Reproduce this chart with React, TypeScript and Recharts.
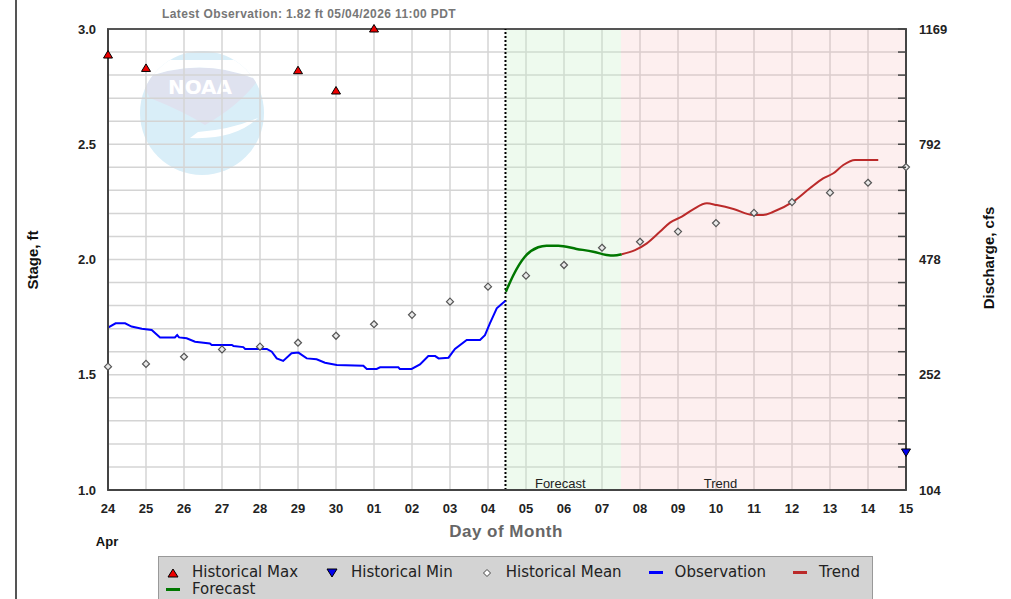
import React from 'react';
import {
  ComposedChart, Line, Scatter, XAxis, YAxis, CartesianGrid, ReferenceArea, ReferenceLine,
} from 'recharts';

// ---- tick labels ----
const dayLabels = ['24', '25', '26', '27', '28', '29', '30', '01', '02', '03', '04', '05', '06', '07', '08', '09', '10', '11', '12', '13', '14', '15'];
const dayTicks = [0, 1, 2, 3, 4, 5, 6, 7, 8, 9, 10, 11, 12, 13, 14, 15, 16, 17, 18, 19, 20, 21];
const stageTicks = [1.0, 1.1, 1.2, 1.3, 1.4, 1.5, 1.6, 1.7, 1.8, 1.9, 2.0, 2.1, 2.2, 2.3, 2.4, 2.5, 2.6, 2.7, 2.8, 2.9, 3.0];
const stageMajor = [1.0, 1.5, 2.0, 2.5, 3.0];
const dischargeLabels = ['104', '252', '478', '792', '1169'];

// ---- observation (days since Apr 24 00:00, stage ft) ----
const obsDay = [0.0, 0.2, 0.45, 0.62, 0.89, 1.15, 1.37, 1.76, 1.82, 1.87, 2.07, 2.29, 2.68, 2.73, 3.26, 3.30, 3.56, 3.61, 4.18, 4.31, 4.44, 4.61, 4.83, 5.01, 5.23, 5.49, 5.71, 6.02, 6.72, 6.81, 7.07, 7.16, 7.64, 7.68, 7.99, 8.21, 8.43, 8.61, 8.70, 8.96, 9.13, 9.44, 9.79, 9.92, 10.05, 10.23, 10.36, 10.46];
const obsStage = [1.704, 1.723, 1.723, 1.709, 1.700, 1.694, 1.662, 1.662, 1.672, 1.662, 1.658, 1.643, 1.636, 1.629, 1.629, 1.625, 1.620, 1.612, 1.612, 1.600, 1.571, 1.560, 1.593, 1.596, 1.571, 1.567, 1.552, 1.542, 1.539, 1.525, 1.525, 1.532, 1.532, 1.525, 1.525, 1.545, 1.581, 1.581, 1.571, 1.574, 1.612, 1.651, 1.651, 1.672, 1.723, 1.788, 1.807, 1.821];

// ---- forecast ----
const fcDay = [10.47, 10.67, 10.97, 11.32, 11.54, 11.85, 12.33, 12.77, 13.12, 13.30, 13.52];
const fcStage = [1.860, 1.933, 2.012, 2.053, 2.060, 2.060, 2.046, 2.034, 2.020, 2.017, 2.023];

// ---- trend ----
const trendDay = [13.52, 13.87, 14.18, 14.53, 14.79, 15.10, 15.40, 15.76, 16.02, 16.46, 16.98, 17.24, 17.51, 18.03, 18.47, 18.82, 19.09, 19.35, 19.66, 20.27];
const trendStage = [2.023, 2.041, 2.070, 2.121, 2.160, 2.186, 2.218, 2.244, 2.236, 2.219, 2.193, 2.193, 2.207, 2.251, 2.309, 2.352, 2.374, 2.410, 2.432, 2.432];

// ---- historical ----
const maxDay = [0, 1, 5, 6, 7];
const maxStage = [2.887, 2.829, 2.819, 2.731, 3.0];
const minDay = [21];
const minStage = [1.165];
const meanDay = [0, 1, 2, 3, 4, 5, 6, 7, 8, 9, 10, 11, 12, 13, 14, 15, 16, 17, 18, 19, 20, 21];
const meanStage = [1.535, 1.547, 1.578, 1.610, 1.622, 1.639, 1.669, 1.719, 1.760, 1.817, 1.882, 1.930, 1.976, 2.051, 2.077, 2.121, 2.158, 2.202, 2.249, 2.290, 2.333, 2.401];

const obsEnd = 10.46;
const forecastEnd = 13.5;

const zip = (xs: number[], ys: number[]) => xs.map((x, i) => ({ x, y: ys[i] }));
const obsData = zip(obsDay, obsStage);
const fcData = zip(fcDay, fcStage);
const trendData = zip(trendDay, trendStage);
const maxData = zip(maxDay, maxStage);
const minData = zip(minDay, minStage);
const meanData = zip(meanDay, meanStage);

const isMajor = (v: number) => stageMajor.some((m) => Math.abs(m - v) < 1e-6);

const TriUp = (p: any) => {
  const { cx, cy } = p;
  if (cx == null || cy == null) return null;
  return <path d={`M${cx},${cy - 4.5} L${cx + 4.5},${cy + 3} L${cx - 4.5},${cy + 3} Z`} fill="#ee0000" stroke="#000" strokeWidth={1} />;
};
const TriDown = (p: any) => {
  const { cx, cy } = p;
  if (cx == null || cy == null) return null;
  return <path d={`M${cx - 4.5},${cy - 3} L${cx + 4.5},${cy - 3} L${cx},${cy + 4.5} Z`} fill="#0000ee" stroke="#000" strokeWidth={1} />;
};
const Diamond = (p: any) => {
  const { cx, cy } = p;
  if (cx == null || cy == null) return null;
  return <path d={`M${cx},${cy - 3.5} L${cx + 3.5},${cy} L${cx},${cy + 3.5} L${cx - 3.5},${cy} Z`} fill="#e8e8e8" stroke="#555" strokeWidth={1.2} />;
};

const labelFont = '"Liberation Sans", Arial, sans-serif';

const AreaLabel = (text: string, dx: number) => (props: any) => {
  const vb = props.viewBox || {};
  const x = vb.x + vb.width / 2 + dx;
  const y = vb.y + vb.height - 2;
  return (
    <text x={x} y={y} textAnchor="middle" fontFamily={labelFont} fontSize={13} fill="#222">{text}</text>
  );
};

const RightTick = (props: any) => {
  const { y, payload } = props;
  const v = payload?.value as number;
  const i = stageMajor.findIndex((m) => Math.abs(m - v) < 1e-6);
  return (
    <g>
      <line x1={906} x2={898} y1={y} y2={y} stroke="#444" strokeWidth={1.5} />
      {i >= 0 ? (
        <text x={919} y={y} dy="0.35em" textAnchor="start" fontFamily={labelFont} fontSize={13} fontWeight="bold" fill="#222">
          {dischargeLabels[i]}
        </text>
      ) : null}
    </g>
  );
};

const NoaaLogo = () => (
  <svg width={1011} height={599} style={{ position: 'absolute', left: 0, top: 0 }}>
    <defs>
      <clipPath id="noaaclip"><circle cx={202} cy={113} r={62} /></clipPath>
    </defs>
    <circle cx={202} cy={113} r={62} fill="#d9eef8" />
    <g clipPath="url(#noaaclip)">
      <path d="M140,80 Q200,55 258,80 Q240,105 205,125 Q185,112 150,98 Z" fill="#dfe2ef" />
      <path d="M140,60 L264,60 L258,80 Q200,55 140,80 Z" fill="#ffffff" />
      <path d="M198,132 Q230,130 258,118 Q235,140 190,138 Z" fill="#ffffff" />
    </g>
    <text x={200} y={94} textAnchor="middle" fontFamily="'DejaVu Sans', sans-serif" fontWeight="bold" fontSize={20} fill="#ffffff">NOAA</text>
  </svg>
);

const legendItem = (icon: React.ReactNode, text: string, mr: number) => (
  <div style={{ display: 'flex', alignItems: 'center', marginRight: mr, height: 17, flexShrink: 0 }}>
    <div style={{ width: 16, display: 'flex', justifyContent: 'center' }}>{icon}</div>
    <span style={{ marginLeft: 11, whiteSpace: 'nowrap', lineHeight: '17px' }}>{text}</span>
  </div>
);

const lineIcon = (color: string) => <div style={{ width: 14, height: 3, background: color }} />;

export default function App() {
  return (
    <div style={{ position: 'absolute', left: 0, top: 0, width: 1011, height: 599, background: '#fff', overflow: 'hidden' }}>
      <NoaaLogo />
      <div style={{ position: 'absolute', left: 15, top: 0, width: 2, height: 599, background: '#555' }} />
      <div style={{ position: 'absolute', left: 0, top: 0 }}>
        <ComposedChart width={1011} height={599} margin={{ top: 29, right: 45, bottom: 79, left: 48 }}>
          <XAxis
            dataKey="x"
            type="number"
            domain={[0, 21]}
            ticks={dayTicks}
            interval={0}
            tickFormatter={(v: number) => dayLabels[Math.round(v)]}
            tickLine={false}
            tickMargin={8}
            height={30}
            axisLine={{ stroke: '#444', strokeWidth: 2 }}
            tick={{ fontFamily: labelFont, fontSize: 13, fontWeight: 'bold', fill: '#222' }}
          />
          <YAxis
            yAxisId="left"
            dataKey="y"
            type="number"
            domain={[1, 3]}
            ticks={stageTicks}
            interval={0}
            width={60}
            tickLine={false}
            tickSize={0}
            tickMargin={12}
            tickFormatter={(v: number) => (isMajor(v) ? v.toFixed(1) : '')}
            axisLine={{ stroke: '#444', strokeWidth: 2 }}
            tick={{ fontFamily: labelFont, fontSize: 13, fontWeight: 'bold', fill: '#222' }}
          />
          <YAxis
            yAxisId="right"
            orientation="right"
            dataKey="y"
            type="number"
            domain={[1, 3]}
            ticks={stageTicks}
            interval={0}
            width={60}
            tickLine={false}
            axisLine={{ stroke: '#444', strokeWidth: 2 }}
            tick={<RightTick />}
          />
          <CartesianGrid yAxisId="left" stroke="#d4d4d4" strokeWidth={1.5} />
          <ReferenceArea yAxisId="left" x1={obsEnd} x2={forecastEnd} y1={1} y2={3} fill="#c8f0c8" fillOpacity={0.3} stroke="none" label={AreaLabel('Forecast', -3)} />
          <ReferenceArea yAxisId="left" x1={forecastEnd} x2={21} y1={1} y2={3} fill="#f5b0b0" fillOpacity={0.2} stroke="none" label={AreaLabel('Trend', -43)} />
          <ReferenceArea yAxisId="left" x1={0} x2={21} y1={1} y2={3} fill="none" stroke="#555" strokeWidth={2} />
          <ReferenceLine yAxisId="left" x={obsEnd} stroke="#000" strokeWidth={2} strokeDasharray="2 2" />
          <Line yAxisId="left" data={obsData} dataKey="y" type="linear" stroke="#0000ff" strokeWidth={2} dot={false} isAnimationActive={false} />
          <Line yAxisId="left" data={fcData} dataKey="y" type="monotone" stroke="#007700" strokeWidth={2.5} dot={false} isAnimationActive={false} />
          <Line yAxisId="left" data={trendData} dataKey="y" type="monotone" stroke="#bb2a2a" strokeWidth={2} dot={false} isAnimationActive={false} />
          <Scatter yAxisId="left" data={meanData} dataKey="y" shape={Diamond} isAnimationActive={false} />
          <Scatter yAxisId="left" data={maxData} dataKey="y" shape={TriUp} isAnimationActive={false} />
          <Scatter yAxisId="right" data={minData} dataKey="y" shape={TriDown} isAnimationActive={false} />
        </ComposedChart>
      </div>
      {/* title & axis labels */}
      <div style={{ position: 'absolute', left: 109, width: 400, top: 7, textAlign: 'center', fontFamily: labelFont, fontSize: 12, fontWeight: 'bold', color: '#777', letterSpacing: 0.4 }}>
        Latest Observation: 1.82 ft 05/04/2026 11:00 PDT
      </div>
      <div style={{ position: 'absolute', left: 32, top: 260, transform: 'translate(-50%, -50%) rotate(-90deg)', whiteSpace: 'nowrap', fontFamily: labelFont, fontSize: 15, fontWeight: 'bold', color: '#111' }}>
        Stage, ft
      </div>
      <div style={{ position: 'absolute', left: 988, top: 258, transform: 'translate(-50%, -50%) rotate(-90deg)', whiteSpace: 'nowrap', fontFamily: labelFont, fontSize: 15, fontWeight: 'bold', color: '#111' }}>
        Discharge, cfs
      </div>
      <div style={{ position: 'absolute', left: 506, top: 532, transform: 'translate(-50%, -50%)', whiteSpace: 'nowrap', fontFamily: labelFont, fontSize: 17, fontWeight: 'bold', color: '#666', letterSpacing: 0.5 }}>
        Day of Month
      </div>
      <div style={{ position: 'absolute', left: 107, top: 541, transform: 'translate(-50%, -50%)', whiteSpace: 'nowrap', fontFamily: labelFont, fontSize: 13, fontWeight: 'bold', color: '#111' }}>
        Apr
      </div>
      {/* legend */}
      <div style={{ position: 'absolute', left: 158, top: 556, width: 713, height: 60, background: '#d3d3d3', border: '1px solid #999', fontFamily: '"DejaVu Sans", sans-serif', fontSize: 15, color: '#222' }}>
        <div style={{ display: 'flex', flexWrap: 'wrap', paddingLeft: 6, paddingTop: 7, rowGap: 0 }}>
          {legendItem(<svg width={12} height={10}><path d="M6,1 L11,9 L1,9 Z" fill="#ee0000" stroke="#000" strokeWidth={1} /></svg>, 'Historical Max', 26)}
          {legendItem(<svg width={12} height={10}><path d="M1,1 L11,1 L6,9 Z" fill="#0000ee" stroke="#000" strokeWidth={1} /></svg>, 'Historical Min', 26)}
          {legendItem(<svg width={10} height={10}><path d="M5,1.5 L8.5,5 L5,8.5 L1.5,5 Z" fill="#fff" stroke="#444" strokeWidth={1} /></svg>, 'Historical Mean', 26)}
          {legendItem(lineIcon('#0000ff'), 'Observation', 26)}
          {legendItem(lineIcon('#bb2a2a'), 'Trend', 0)}
          <div style={{ flexBasis: '100%', height: 0 }} />
          {legendItem(lineIcon('#007700'), 'Forecast', 0)}
        </div>
      </div>
    </div>
  );
}
